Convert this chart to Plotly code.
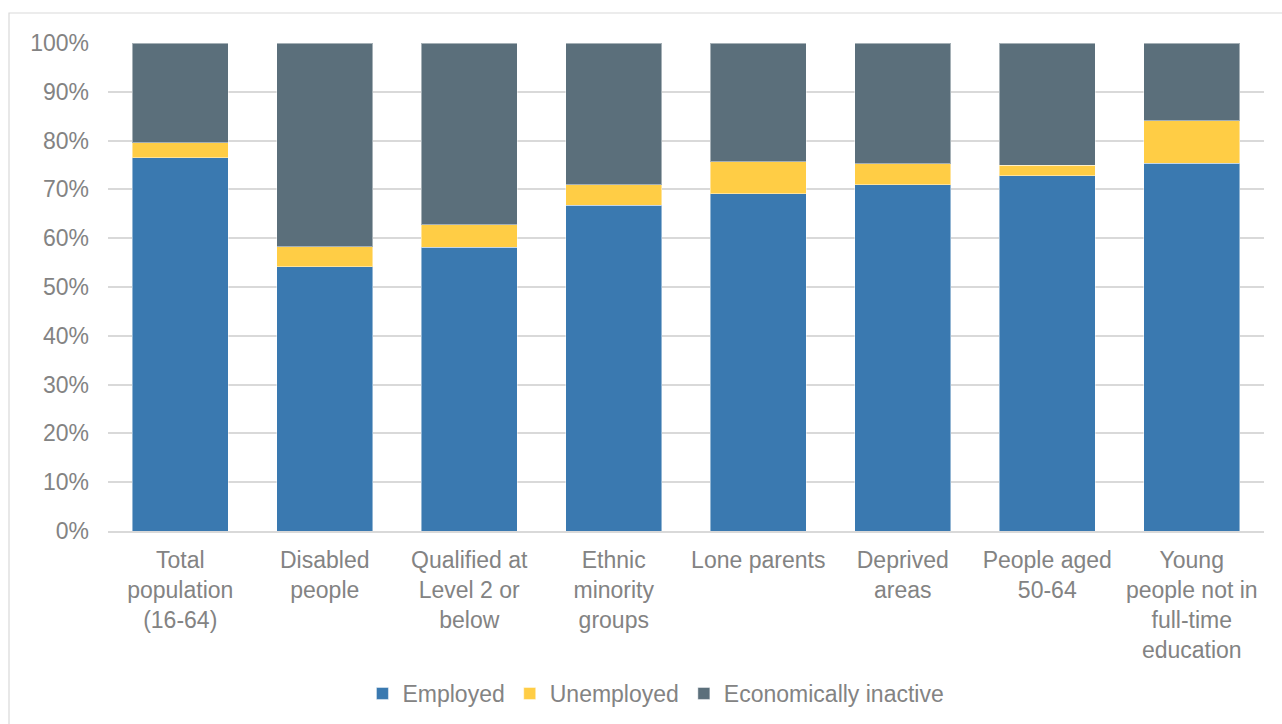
import plotly.graph_objects as go

categories = [
    "Total<br>population<br>(16-64)",
    "Disabled<br>people",
    "Qualified at<br>Level 2 or<br>below",
    "Ethnic<br>minority<br>groups",
    "Lone parents",
    "Deprived<br>areas",
    "People aged<br>50-64",
    "Young<br>people not in<br>full-time<br>education",
]
employed = [76.5, 54.2, 58.1, 66.8, 69.1, 71.0, 72.8, 75.4]
unemployed = [3.1, 4.0, 4.7, 4.2, 6.6, 4.3, 2.1, 8.7]
inactive = [round(100 - e - u, 1) for e, u in zip(employed, unemployed)]

FONT = "Liberation Sans, Arial, sans-serif"
TXT = "#838383"
GRID = "#D9D9D9"

fig = go.Figure()
for name, vals, col in [
    ("Employed", employed, "#3A79B0"),
    ("Unemployed", unemployed, "#FFCD45"),
    ("Economically inactive", inactive, "#5B6F7B"),
]:
    fig.add_trace(go.Bar(
        x=categories, y=vals, name=name,
        marker=dict(color=col, line=dict(color="rgba(255,255,255,0.45)", width=1)),
    ))

fig.update_layout(
    barmode="stack",
    bargap=0.335,
    width=1282, height=724,
    margin=dict(l=108, r=18, t=43, b=193, autoexpand=False),
    paper_bgcolor="white", plot_bgcolor="white",
    font=dict(family=FONT, size=23, color=TXT),
    showlegend=True,
    legend=dict(orientation="h", x=0.474, xanchor="center", y=-0.333, yanchor="middle",
                font=dict(size=23, color=TXT), traceorder="normal", itemwidth=30),
    shapes=[dict(type="rect", xref="paper", yref="paper",
                 x0=(9 - 108) / 1156, x1=(1300 - 108) / 1156,
                 y0=(531 - 740) / 488, y1=(531 - 13) / 488,
                 line=dict(color=GRID, width=1.2), fillcolor="rgba(0,0,0,0)", layer="below")],
)
fig.update_yaxes(range=[0, 100], dtick=10, ticksuffix="%", showgrid=True, gridcolor=GRID,
                 gridwidth=1.5, zeroline=False, showline=False, ticks="",
                 ticklabelstandoff=18, tickfont=dict(size=23, color=TXT), automargin=False)
fig.update_xaxes(showline=True, linecolor=GRID, linewidth=1.5, ticks="",
                 tickfont=dict(size=23, color=TXT), tickangle=0, ticklabelstandoff=8,
                 automargin=False)

fig.write_html("out.html")
